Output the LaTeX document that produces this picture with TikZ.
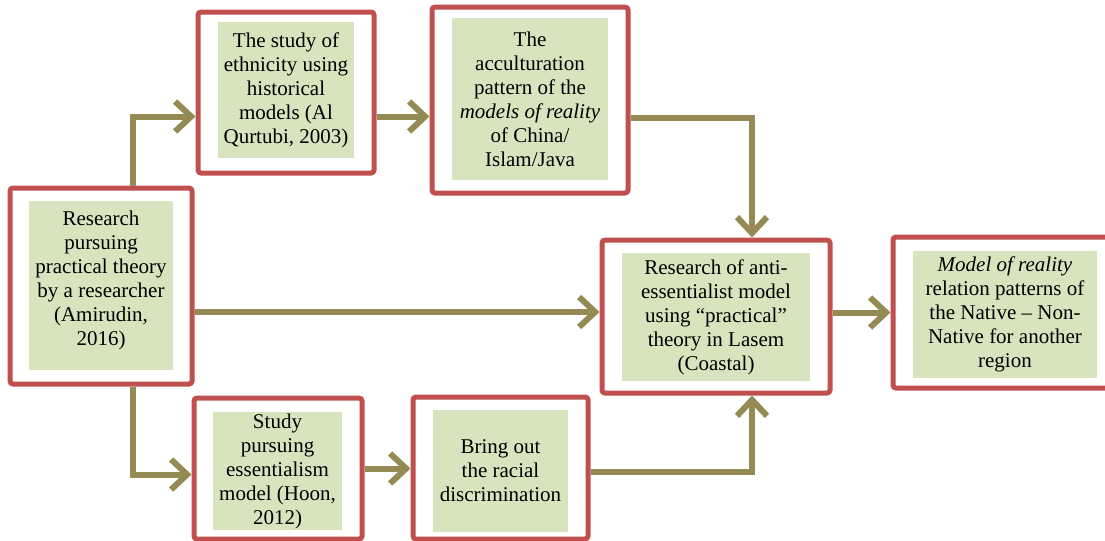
\documentclass[tikz,border=0pt]{standalone}
\usepackage{fontspec}
\setmainfont{Liberation Serif}
\usetikzlibrary{arrows.meta,positioning,calc}
\definecolor{boxred}{RGB}{192,80,77}
\definecolor{boxgreen}{RGB}{215,228,189}
\definecolor{flowolive}{RGB}{148,138,84}
\begin{document}
\begin{tikzpicture}[
    x=0.5pt, y=-0.5pt,
    frame/.style={draw=boxred, line width=2.5pt, fill=white, rounded corners=1.5pt, inner sep=0pt},
    card/.style={fill=boxgreen, align=center, inner sep=0pt, font=\fontsize{10.5}{12}\selectfont},
    flow/.style={draw=flowolive, line width=3pt, -{Straight Barb[length=8pt, width=15pt]}},
]
\useasboundingbox (0,0) rectangle (1105,541);

% Outer red frames
\node[frame, minimum width=91pt, minimum height=98pt] (A) at (101,286) {};
\node[frame, minimum width=88pt, minimum height=80.5pt] (B) at (286,92.5) {};
\node[frame, minimum width=98pt, minimum height=93pt] (C) at (530,100) {};
\node[frame, minimum width=114pt, minimum height=76.5pt] (D) at (716,316.5) {};
\node[frame, minimum width=112pt, minimum height=75.5pt] (E) at (1005,312.5) {};
\node[frame, minimum width=84pt, minimum height=70.5pt] (F) at (278,468.5) {};
\node[frame, minimum width=87.5pt, minimum height=71pt] (G) at (500.5,468) {};

% Green text cards
\node[card, minimum width=72pt, minimum height=84.5pt] (Atext) at (101,285.5)
    {Research\\pursuing\\practical theory\\by a researcher\\(Amirudin,\\2016)\\[-5pt]\mbox{}};
\node[card, minimum width=68pt, minimum height=68pt] (Btext) at (286,90)
    {The study of\\ethnicity using\\historical\\models (Al\\Qurtubi, 2003)};
\node[card, minimum width=78pt, minimum height=81pt] (Ctext) at (530,99)
    {The\\acculturation\\pattern of the\\\textit{models of reality}\\of China/\\Islam/Java};
\node[card, minimum width=94pt, minimum height=64pt] (Dtext) at (716,317)
    {Research of anti-\\essentialist model\\using “practical”\\theory in Lasem\\(Coastal)};
\node[card, minimum width=92pt, minimum height=63.5pt] (Etext) at (1005,314.5)
    {\textit{Model of reality}\\relation patterns of\\the Native – Non-\\Native for another\\region};
\node[card, minimum width=64.5pt, minimum height=59pt] (Ftext) at (277.5,471)
    {Study\\pursuing\\essentialism\\model (Hoon,\\2012)};
\node[card, minimum width=67.5pt, minimum height=61pt] (Gtext) at (500.5,471)
    {Bring out\\the racial\\discrimination};

% Connectors
\draw[flow] ([xshift=16pt]A.north) |- ([yshift=-12pt]B.west);
\draw[flow] ([yshift=-12pt]B.east) -- ([yshift=-12pt]B.east -| C.west);
\draw[flow] ([yshift=-9pt]C.east) -| ([xshift=18pt]D.north);
\draw[flow] ([yshift=-13pt]A.east) -- ([yshift=-13pt]A.east -| D.west);
\draw[flow] ([xshift=16pt]A.south) |- ([yshift=-3pt]F.west);
\draw[flow] (F.east) -- (F.east -| G.west);
\draw[flow] ([yshift=-2pt]G.east) -| ([xshift=18pt]D.south);
\draw[flow] ([yshift=2pt]D.east) -- ([yshift=2pt]D.east -| E.west);
\end{tikzpicture}
\end{document}
